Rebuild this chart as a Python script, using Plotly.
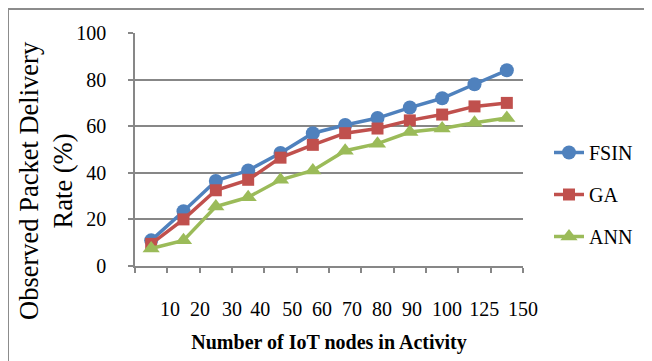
import plotly.graph_objects as go

categories = ["10", "20", "30", "40", "50", "60", "70", "80", "90", "100", "125", "150"]
fsin = [11, 23.5, 36.5, 41, 48.5, 57, 60.5, 63.5, 68, 72, 78, 84]
ga = [9.5, 20, 32.5, 37, 46.5, 52, 57, 59, 62.5, 65, 68.5, 70]
ann = [7.5, 11, 25.5, 29.5, 37, 41, 49.5, 52.5, 57.5, 59, 61.5, 63.5]

# label positions along the category axis (Excel spreads labels to avoid overlap)
label_pos = [1.08, 2.01, 3.0, 3.87, 4.86, 5.78, 6.71, 7.64, 8.57, 9.65, 10.8, 12.0]

series = [("FSIN", fsin, "#4F81BD", "circle", 14),
          ("GA", ga, "#C0504D", "square", 12),
          ("ANN", ann, "#9BBB59", "triangle-up", 15)]

xpos = [i + 0.5 for i in range(len(categories))]

fig = go.Figure()
for name, vals, color, sym, size in series:
    fig.add_trace(go.Scatter(
        x=xpos, y=vals, name=name, mode="lines+markers",
        line=dict(color=color, width=3.5),
        marker=dict(color=color, symbol=sym, size=size),
        legendgroup=name,
    ))

FONT = "Liberation Serif, Times New Roman, serif"
GRID = "#878787"

OFF = 8  # page body margin
W, H = 652 - OFF, 361 - OFF
L, R, T, B = 135 - OFF, 129, 33 - OFF, 95
pw, ph = W - L - R, H - T - B

def px(x):
    return (x - OFF - L) / pw

def py(y):
    return (H - B - (y - OFF)) / ph

fig.update_layout(
    width=W, height=H,
    margin=dict(l=L, r=R, t=T, b=B, autoexpand=False),
    paper_bgcolor="white", plot_bgcolor="white",
    font=dict(family=FONT, size=20, color="black"),
    showlegend=True,
    legend=dict(x=px(549), y=py(133), xanchor="left", yanchor="top",
                font=dict(family=FONT, size=20, color="black"),
                tracegroupgap=13, bgcolor="rgba(0,0,0,0)"),
    xaxis=dict(
        range=[0, len(categories)],
        tickmode="array",
        tickvals=list(range(len(categories) + 1)),
        ticktext=[""] * (len(categories) + 1),
        ticks="outside", ticklen=5, tickcolor=GRID, tickwidth=1.5,
        showgrid=False, zeroline=False,
        showline=True, linecolor=GRID, linewidth=1.5,
        automargin=False,
    ),
    xaxis2=dict(
        overlaying="x", side="bottom", anchor="y",
        range=[0, len(categories)],
        tickmode="array", tickvals=label_pos, ticktext=categories,
        ticks="", showgrid=False, zeroline=False, showline=False,
        tickfont=dict(family=FONT, size=20),
        ticklabelstandoff=29,
        automargin=False,
        title=dict(text="<b>Number of IoT nodes in Activity</b>",
                   font=dict(family=FONT, size=20), standoff=15),
    ),
    yaxis=dict(
        range=[0, 100], dtick=20,
        ticks="outside", ticklen=5, tickcolor=GRID, tickwidth=1.5,
        showgrid=True, gridcolor=GRID, gridwidth=1.5,
        zeroline=False,
        showline=True, linecolor=GRID, linewidth=1.5,
        tickfont=dict(family=FONT, size=20),
        ticklabelstandoff=18,
        automargin=False,
    ),
    annotations=[dict(
        text="Observed Packet Delivery<br>Rate (%)",
        textangle=-90, xref="paper", yref="paper",
        x=px(46), y=py(181), xanchor="center", yanchor="middle",
        showarrow=False, font=dict(family=FONT, size=26.5, color="black"),
    )],
    shapes=[
        dict(type="line", xref="paper", yref="paper",
             x0=px(8), x1=px(670), y0=py(9), y1=py(9),
             line=dict(color="#8c8c8c", width=2)),
        dict(type="line", xref="paper", yref="paper",
             x0=px(8), x1=px(8), y0=py(9), y1=py(380),
             line=dict(color="#8c8c8c", width=2)),
    ],
)

# invisible trace to activate the label axis
fig.add_trace(go.Scatter(x=[xpos[0]], y=[None], xaxis="x2", showlegend=False,
                         hoverinfo="skip"))

fig.write_html("out.html")
